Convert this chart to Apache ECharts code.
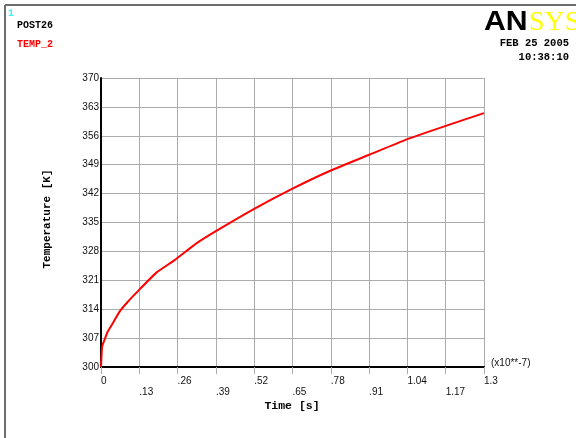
<!DOCTYPE html>
<html>
<head>
<meta charset="utf-8">
<script src="https://cdn.jsdelivr.net/npm/echarts@6/dist/echarts.min.js"></script>
<style>
html,body{margin:0;padding:0;background:#fff;}
#c{width:576px;height:438px;}
</style>
</head>
<body>
<div id="c"></div>
<script>
// Time in units of 1e-7 s
var times = [0, 0.004, 0.012, 0.023, 0.040, 0.063, 0.091, 0.131, 0.187, 0.25, 0.325, 0.39, 0.52, 0.65, 0.78, 0.91, 1.04, 1.17, 1.3];
// Temperature [K]
var temps = [300, 305.0, 306.6, 308.6, 310.6, 313.4, 315.8, 318.8, 322.8, 325.9, 330.0, 332.9, 338.3, 343.2, 347.6, 351.4, 355.2, 358.4, 361.5];
var xTickLabels = ['0', '.13', '.26', '.39', '.52', '.65', '.78', '.91', '1.04', '1.17', '1.3'];
var yTickLabels = ['300', '307', '314', '321', '328', '335', '342', '349', '356', '363', '370'];

// x in units of 1e-9 s (x100) so the 13-step ticks are exact integers
var seriesData = times.map(function (t, i) { return [Math.round(t * 1000) / 10, temps[i]]; });

var chart = echarts.init(document.getElementById('c'), null, {renderer: 'canvas'});
var mono = '"Liberation Mono", "DejaVu Sans Mono", monospace';
var sans = '"Liberation Sans", Arial, sans-serif';
var gridColor = '#ababab';

chart.setOption({
  animation: false,
  backgroundColor: '#ffffff',
  grid: {left: 101, right: 92, top: 78, bottom: 71, containLabel: false},
  xAxis: {
    type: 'value', min: 0, max: 130, interval: 13,
    axisLine: {show: true, onZero: false, lineStyle: {color: '#000', width: 2}},
    axisTick: {show: true, length: 7, lineStyle: {color: gridColor, width: 1}},
    splitLine: {show: true, lineStyle: {color: gridColor, width: 1}},
    axisLabel: {
      show: true, margin: 9, fontSize: 10, lineHeight: 11, fontFamily: sans, color: '#111',
      align: 'left', showMinLabel: true, showMaxLabel: true,
      formatter: function (v) {
        var i = Math.round(v / 13);
        return (i % 2 ? '\n' : '') + xTickLabels[i];
      }
    }
  },
  yAxis: {
    type: 'value', min: 300, max: 370, interval: 7,
    axisLine: {show: true, lineStyle: {color: '#000', width: 2}},
    axisTick: {show: false},
    splitLine: {show: true, lineStyle: {color: gridColor, width: 1}},
    axisLabel: {
      show: true, margin: 2, fontSize: 10, fontFamily: sans, color: '#111',
      showMinLabel: true, showMaxLabel: true,
      formatter: function (v) { return yTickLabels[Math.round((v - 300) / 7)]; }
    }
  },
  series: [{
    type: 'line', data: seriesData, showSymbol: false, smooth: 0.15,
    lineStyle: {color: '#ff0000', width: 2}, clip: false
  }],
  graphic: [
    {type: 'line', shape: {x1: 5, y1: 5, x2: 576, y2: 5}, style: {stroke: '#6e6e6e', lineWidth: 2}},
    {type: 'line', shape: {x1: 5, y1: 5, x2: 5, y2: 438}, style: {stroke: '#6e6e6e', lineWidth: 2}},
    {type: 'text', x: 8, y: 13, style: {text: '1', fill: '#44eeee', font: 'bold 10px ' + mono, textVerticalAlign: 'middle'}},
    {type: 'text', x: 17, y: 25, style: {text: 'POST26', fill: '#000', font: 'bold 10px ' + mono, textVerticalAlign: 'middle'}},
    {type: 'text', x: 17, y: 44, style: {text: 'TEMP_2', fill: '#ff0000', font: 'bold 10px ' + mono, textVerticalAlign: 'middle'}},
    {type: 'text', x: 484, y: 23, scaleX: 1.12, style: {text: 'AN', fill: '#000', font: '900 27px "Liberation Sans", Arial, sans-serif', textVerticalAlign: 'middle'}},
    {type: 'text', x: 529, y: 23, style: {text: 'SYS', fill: '#ffff00', font: '28px "Liberation Serif", "Times New Roman", serif', textVerticalAlign: 'middle'}},
    {type: 'text', x: 569, y: 43, style: {text: 'FEB 25 2005', fill: '#000', font: 'bold 10.5px ' + mono, textAlign: 'right', textVerticalAlign: 'middle'}},
    {type: 'text', x: 569, y: 57, style: {text: '10:38:10', fill: '#000', font: 'bold 10.5px ' + mono, textAlign: 'right', textVerticalAlign: 'middle'}},
    {type: 'text', x: 491, y: 363, style: {text: '(x10**-7)', fill: '#111', font: '10px ' + sans, textVerticalAlign: 'middle'}},
    {type: 'text', x: 292, y: 406, style: {text: 'Time [s]', fill: '#000', font: 'bold 11.5px ' + mono, textAlign: 'center', textVerticalAlign: 'middle'}},
    {type: 'text', x: 47, y: 219, rotation: Math.PI / 2, style: {text: 'Temperature [K]', fill: '#000', font: 'bold 11px ' + mono, textAlign: 'center', textVerticalAlign: 'middle'}}
  ]
});
</script>
</body>
</html>
